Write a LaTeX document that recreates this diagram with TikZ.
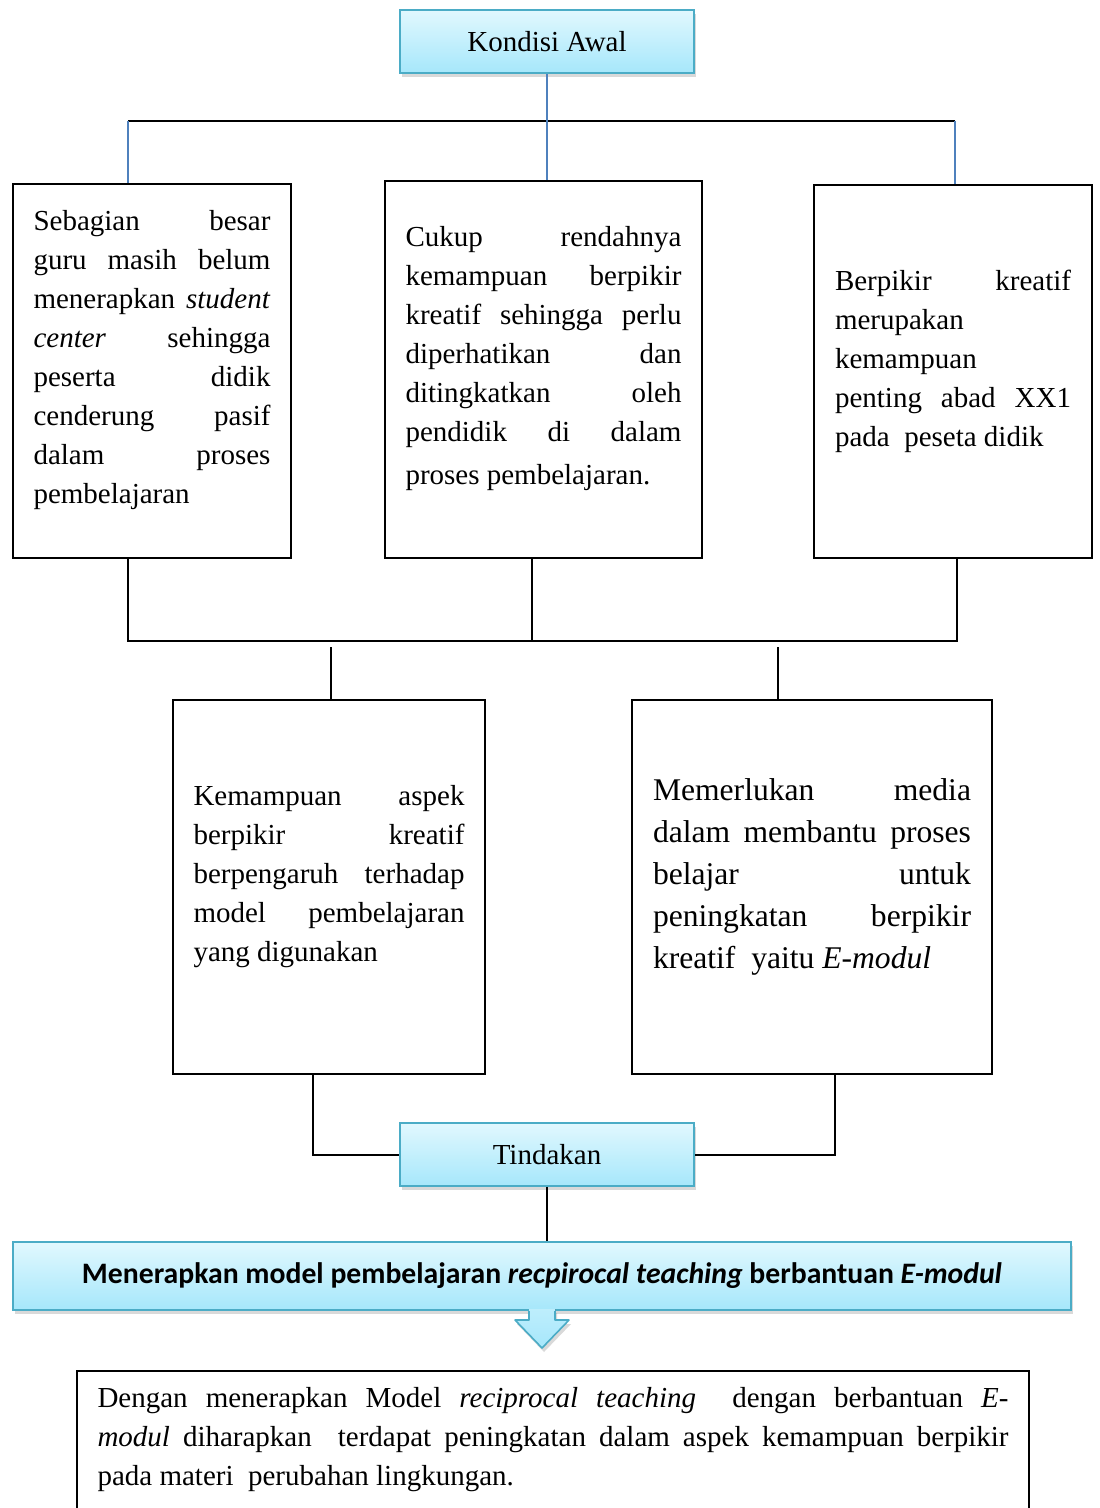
\documentclass[tikz,border=0pt]{standalone}
\usepackage{fontspec}
\setmainfont{Liberation Serif}
\newfontfamily\calibri{Carlito}
\usetikzlibrary{shadows}

\definecolor{birumuda}{HTML}{E1F8FE}
\definecolor{birutua}{HTML}{A6E7FB}
\definecolor{tepibiru}{HTML}{4BACC6}
\definecolor{garisbiru}{HTML}{4F81BD}

\tolerance=10000
\hbadness=10000
\hyphenpenalty=10000
\newcommand\ruangbawah{\endgraf\vspace{10.5pt}}

\begin{document}
\begin{tikzpicture}[x=0.5pt, y=-0.5pt,
	judul/.style={draw=tepibiru, line width=0.8pt, top color=birumuda, bottom color=birutua,
		drop shadow={shadow xshift=1pt, shadow yshift=-2pt, opacity=0.3},
		minimum width=147pt, minimum height=31.5pt, font=\fontsize{14.5}{19.5}\selectfont},
	kotak/.style={draw, line width=1pt, align=justify, inner xsep=0pt, minimum height=187pt,
		font=\fontsize{14.5}{19.5}\selectfont, execute at end node=\ruangbawah},
	garis/.style={line width=1pt},
	biru/.style={draw=garisbiru, line width=0.8pt}]
\clip (0,0) rectangle (1099,1508);

\node[judul] (kondisi) at (547,41.5) {Kondisi Awal};

\node[kotak, minimum width=139pt, text width=118.5pt] (sebab1) at (152,371)
	{Sebagian besar\linebreak guru masih belum\linebreak menerapkan \textit{student}\linebreak
	\textit{center} sehingga\linebreak peserta didik\linebreak cenderung pasif\linebreak
	dalam proses\linebreak pembelajaran};
\node[kotak, minimum width=158.5pt, minimum height=188.5pt, text width=138pt] (sebab2) at (543.5,369.5)
	{Cukup rendahnya\linebreak kemampuan berpikir\linebreak kreatif sehingga perlu\linebreak
	diperhatikan dan\linebreak ditingkatkan oleh\linebreak pendidik di dalam\vspace{2pt}\linebreak
	proses pembelajaran.};
\node[kotak, minimum width=139pt, minimum height=186.5pt, text width=118pt] (sebab3) at (953,371.5)
	{Berpikir kreatif\linebreak merupakan\linebreak kemampuan\linebreak penting abad XX1\linebreak
	pada\ \ peseta didik};

\node[kotak, minimum width=156pt, text width=135.5pt] (akibat1) at (329,887)
	{Kemampuan aspek\linebreak berpikir kreatif\linebreak berpengaruh terhadap\linebreak
	model pembelajaran\linebreak yang digunakan};
\node[kotak, minimum width=180pt, text width=159pt, font=\fontsize{15.8}{21}\selectfont] (akibat2) at (812,887)
	{Memerlukan media\linebreak dalam membantu proses\linebreak belajar untuk\linebreak
	peningkatan berpikir\linebreak kreatif\ \ yaitu \textit{E-modul}};

\node[judul] (tindakan) at (547,1154.5) {Tindakan};

\node[judul, minimum width=529pt, minimum height=34pt, font=\calibri\bfseries\fontsize{14.85}{18}\selectfont] (solusi) at (542,1276)
	{Menerapkan model pembelajaran \textit{recpirocal teaching} berbantuan \textit{E-modul}};

\node[draw, line width=1pt, anchor=north, minimum width=476pt, text width=455.5pt, align=justify,
	inner xsep=0pt, inner ysep=8pt, text depth=60pt, font=\fontsize{14.5}{19.5}\selectfont] (harapan) at (553,1370)
	{Dengan menerapkan Model \textit{reciprocal teaching}\ \ dengan berbantuan \textit{E-}\linebreak
	\textit{modul} diharapkan\ \ terdapat peningkatan dalam aspek kemampuan berpikir\linebreak
	pada materi\ \ perubahan lingkungan.};

% garis dari kondisi awal
\coordinate (a1) at (128,121);
\coordinate (a3) at (955,121);
\draw[garis] (a1) -- (a3);
\draw[biru] (kondisi.south) -- (kondisi.south |- sebab2.north);
\draw[biru] (a1) -- (a1 |- sebab1.north);
\draw[biru] (a3) -- (a3 |- sebab3.north);

% garis ke akibat
\coordinate (b1) at (128,641);
\coordinate (b2) at (532,641);
\coordinate (b3) at (957,641);
\draw[garis] (b1 |- sebab1.south) -- (b1) -- (b3) -- (b3 |- sebab3.south);
\draw[garis] (b2 |- sebab2.south) -- (b2);
\coordinate (c1) at (331,647);
\coordinate (c2) at (778,647);
\draw[garis] (c1) -- (c1 |- akibat1.north);
\draw[garis] (c2) -- (c2 |- akibat2.north);

% garis ke tindakan
\coordinate (d1) at (313,1100);
\coordinate (d2) at (835,1100);
\draw[garis] (d1 |- akibat1.south) |- (tindakan.west);
\draw[garis] (d2 |- akibat2.south) |- (tindakan.east);
\draw[garis] (tindakan.south) -- (tindakan.south |- solusi.north);

% panah
\fill[top color=birutua!60!birumuda, bottom color=birutua,
	drop shadow={shadow xshift=1pt, shadow yshift=-2pt, opacity=0.3}]
	(529,1309) -- (529,1320) -- (515,1320) -- (542,1348) -- (569,1320) -- (555,1320) -- (555,1309) -- cycle;
\draw[tepibiru, line width=0.8pt, line join=round]
	(529,1311) -- (529,1320) -- (515,1320) -- (542,1348) -- (569,1320) -- (555,1320) -- (555,1311);
\end{tikzpicture}
\end{document}
